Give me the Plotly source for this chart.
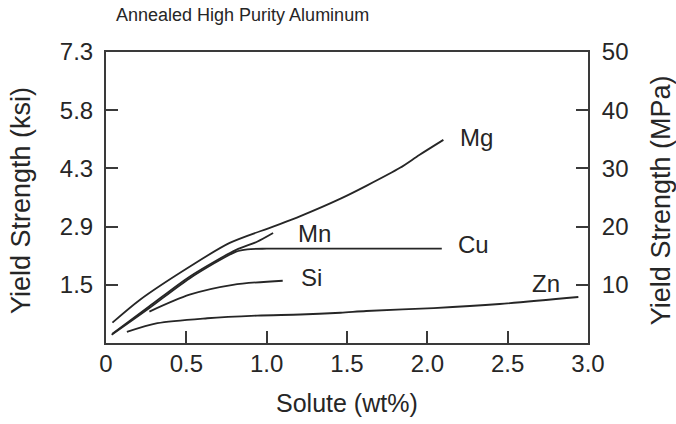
import plotly.graph_objects as go

# Yield strength (MPa) of annealed high-purity aluminum vs. solute content (wt%)
mg_x = [0.04, 0.21, 0.52, 0.77, 1.04, 1.21, 1.46, 1.62, 1.83, 1.95, 2.10]
mg_y = [3.5, 7.4, 13.1, 17.2, 20.0, 21.8, 24.8, 27.0, 30.1, 32.3, 34.9]

mn_x = [0.04, 0.27, 0.52, 0.81, 0.94, 1.04]
mn_y = [1.6, 6.3, 11.4, 16.0, 17.4, 18.9]

cu_x = [0.035, 0.27, 0.52, 0.81, 0.88, 1.0, 1.5, 2.09]
cu_y = [1.4, 6.0, 11.1, 15.7, 16.1, 16.2, 16.2, 16.2]

si_x = [0.27, 0.52, 0.79, 1.10]
si_y = [5.4, 8.3, 10.0, 10.7]

zn_x = [0.13, 0.32, 0.63, 0.94, 1.21, 1.46, 1.62, 2.04, 2.45, 2.94]
zn_y = [1.9, 3.4, 4.25, 4.7, 4.9, 5.2, 5.5, 6.0, 6.7, 7.9]

# curve labels: name, x, y (MPa)
labels = ["Mg", "Cu", "Mn", "Si", "Zn"]
label_x = [2.19, 2.18, 1.18, 1.20, 2.64]
label_y = [35.3, 17.0, 18.8, 11.3, 10.3]

x_ticks = [0, 0.5, 1.0, 1.5, 2.0, 2.5, 3.0]
x_ticktext = ["0", "0.5", "1.0", "1.5", "2.0", "2.5", "3.0"]
mpa_ticks = [10, 20, 30, 40, 50]
ksi_ticktext = ["1.5", "2.9", "4.3", "5.8", "7.3"]
mpa_ticktext = ["10", "20", "30", "40", "50"]

FONT = "Liberation Sans, Arial, Helvetica, sans-serif"
INK = "#262626"
AXIS = "#3a3a3a"
FS = 24

fig = go.Figure()
line = dict(color=INK, width=1.8, shape="spline", smoothing=0.8)
for xs, ys in [(mg_x, mg_y), (mn_x, mn_y), (cu_x, cu_y), (si_x, si_y), (zn_x, zn_y)]:
    fig.add_trace(go.Scatter(x=xs, y=ys, mode="lines", line=line,
                             showlegend=False, hoverinfo="skip"))

# invisible trace to anchor the right-hand MPa axis
fig.add_trace(go.Scatter(x=[0], y=[0], yaxis="y2", mode="markers",
                         marker=dict(opacity=0), showlegend=False, hoverinfo="skip"))

for name, lx, ly in zip(labels, label_x, label_y):
    fig.add_annotation(x=lx, y=ly, text=name, showarrow=False, xanchor="left",
                       yanchor="middle", font=dict(family=FONT, size=FS, color=INK))

# axis titles and chart title
fig.add_annotation(xref="paper", yref="paper", x=0.5, y=-0.206, text="Solute (wt%)",
                   showarrow=False, xanchor="center", yanchor="middle",
                   font=dict(family=FONT, size=25, color=INK))
fig.add_annotation(xref="paper", yref="paper", x=-0.175, y=0.49, text="Yield Strength (ksi)",
                   textangle=-90, showarrow=False, xanchor="center", yanchor="middle",
                   font=dict(family=FONT, size=27, color=INK))
fig.add_annotation(xref="paper", yref="paper", x=1.153, y=0.49, text="Yield Strength (MPa)",
                   textangle=-90, showarrow=False, xanchor="center", yanchor="middle",
                   font=dict(family=FONT, size=27, color=INK))
fig.add_annotation(xref="paper", yref="paper", x=0.017, y=1.127, text="Annealed High Purity Aluminum",
                   showarrow=False, xanchor="left", yanchor="middle",
                   font=dict(family=FONT, size=18, color=INK))

fig.update_layout(
    width=676, height=424,
    margin=dict(l=106, r=88, t=52, b=81),
    paper_bgcolor="white", plot_bgcolor="white",
    font=dict(family=FONT, size=FS, color=INK),
    xaxis=dict(range=[0, 3], tickvals=x_ticks, ticktext=x_ticktext,
               ticks="inside", ticklen=12, tickwidth=2, tickcolor=AXIS,
               showline=True, linecolor=AXIS, linewidth=2, mirror=True,
               showgrid=False, zeroline=False, ticklabelstandoff=-2),
    yaxis=dict(range=[0, 50], tickvals=mpa_ticks, ticktext=ksi_ticktext,
               ticks="inside", ticklen=12, tickwidth=2, tickcolor=AXIS,
               showline=True, linecolor=AXIS, linewidth=2,
               showgrid=False, zeroline=False, ticklabelstandoff=6),
    yaxis2=dict(range=[0, 50], tickvals=mpa_ticks, ticktext=mpa_ticktext,
                overlaying="y", side="right",
                ticks="inside", ticklen=12, tickwidth=2, tickcolor=AXIS,
                showline=True, linecolor=AXIS, linewidth=2,
                showgrid=False, zeroline=False, ticklabelstandoff=7),
)

fig.write_html("out.html")
